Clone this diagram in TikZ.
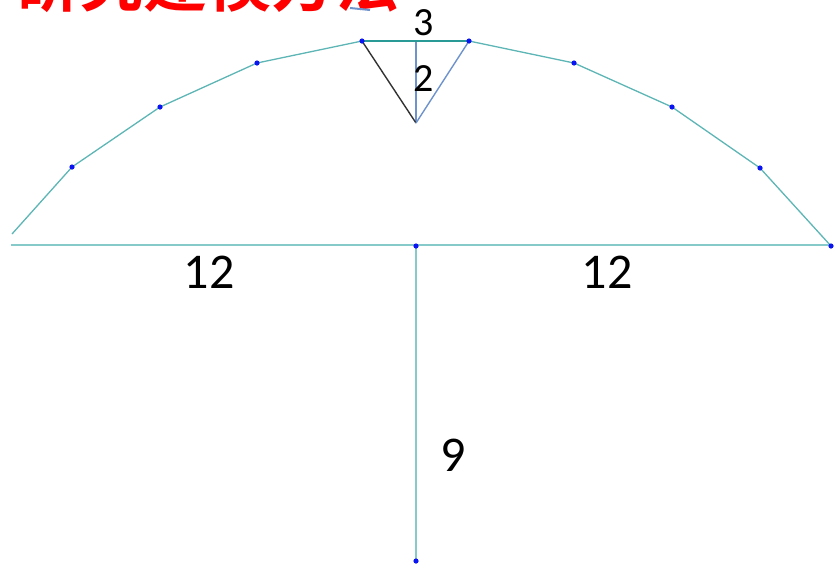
\documentclass[tikz,border=0pt]{standalone}
\usepackage{fontspec}
\setmainfont{Carlito}
\newfontfamily\cjk{Noto Sans CJK SC Bold}
\definecolor{lteal}{HTML}{86CACA}
\definecolor{arcteal}{HTML}{5DB5B5}
\definecolor{dteal}{HTML}{2A9A96}
\definecolor{steel}{HTML}{6E93CC}
\definecolor{dotblue}{HTML}{0A14F0}
\definecolor{tred}{HTML}{FF0000}
\tikzset{
  bdot/.style={circle,inner sep=0pt,minimum size=5.5pt},
  numlab/.style={font=\fontsize{50}{50}\selectfont,text=black,inner sep=0pt},
  smlab/.style={font=\fontsize{40}{40}\selectfont,text=black,inner sep=0pt},
  baseline/.style={draw=lteal,line width=1.4pt},
  arcline/.style={draw=arcteal,line width=1.3pt,line join=round}
}
\begin{document}
\begin{tikzpicture}[x=1pt,y=-1pt]
\useasboundingbox (0,0) rectangle (835,566);
\clip (0,0) rectangle (835,566);
% title (cropped at top edge)
\node[anchor=base west,inner sep=0pt,text=tred,font=\cjk\fontsize{64}{64}\selectfont] (title) at (15,6) {研究建模方法};
\coordinate (m1) at (350,8);
\coordinate (m2) at (370,10);
\draw[steel,line width=2pt] (m1) -- (m2);
% arc points
\coordinate (a0) at (12,234);
\node[bdot] (a1) at (72,167) {};
\node[bdot] (a2) at (160,107) {};
\node[bdot] (a3) at (257,63) {};
\node[bdot] (a4) at (362,41) {};
\node[bdot] (a5) at (469,41) {};
\node[bdot] (a6) at (574,63) {};
\node[bdot] (a7) at (672,107) {};
\node[bdot] (a8) at (760,168) {};
\node[bdot] (a9) at (831,246) {};
\node[bdot] (c) at (416,246) {};
\node[bdot] (bot) at (416,561) {};
\draw[arcline] (a0) -- (a1.center) -- (a2.center) -- (a3.center) -- (a4.center);
\draw[arcline] (a5.center) -- (a6.center) -- (a7.center) -- (a8.center) -- (a9.center);
% base line and vertical
\coordinate (bl) at (11,245);
\coordinate (br) at (831,245);
\draw[baseline] (bl) -- (br);
\draw[baseline] (c.center) -- (bot.center);
% triangle
\coordinate (apex) at (416,123);
\coordinate (tm) at (416,41);
\draw[steel,line width=1.4pt] (tm) -- (apex);
\draw[black!80,line width=1.4pt] (a4.center) -- (apex);
\draw[steel,line width=1.4pt] (a5.center) -- (apex);
\draw[dteal,line width=1.5pt] (a4.center) -- (a5.center);
% dots on top
\foreach \p in {a1,a2,a3,a4,a5,a6,a7,a8,a9,c,bot}
  \fill[dotblue] (\p.center) circle (2.6pt);
% labels
\node[smlab] (l3) at (424,23) {3};
\node[smlab] (l2) at (424,79) {2};
\node[numlab] (l12a) at (209,272) {12};
\node[numlab] (l12b) at (607,272) {12};
\node[numlab] (l9) at (453,455) {9};
\end{tikzpicture}
\end{document}
